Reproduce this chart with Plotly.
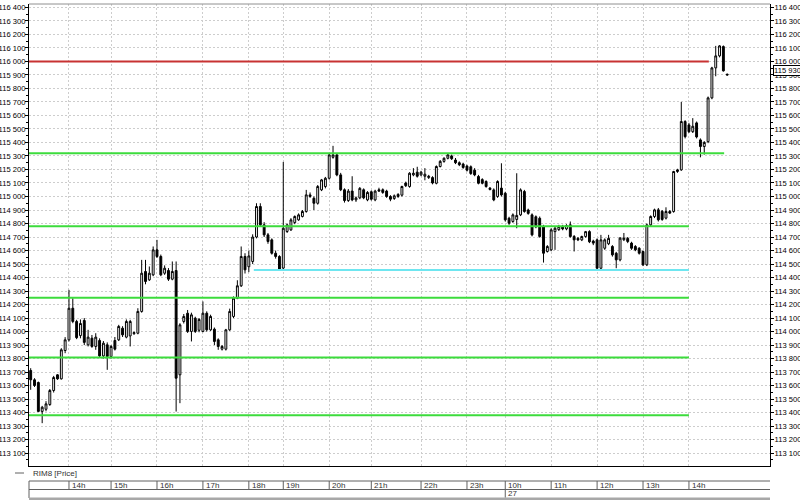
import plotly.graph_objects as go

# ---------------- data ----------------
opens = [113712,113643,113623,113409,113425,113460,113564,113680,113650,113860,
         113939,114173,114075,113970,114082,113902,113951,113890,113934,113820,
         113902,113816,113934,113939,114025,113959,113968,113985,113988,114149,
         114445,114383,114420,114605,114556,114432,114452,114388,114452,113680,
         114075,114136,114001,114099,114010,114001,114136,114013,114018,113939,
         113870,113870,114013,114112,114247,114339,114556,114480,114519,114700,
         114926,114790,114716,114679,114580,114556,114470,114741,114753,114807,
         114827,114852,114889,115000,114987,114950,115049,115074,115135,115290,
         115308,115160,115050,114970,115040,114975,114990,115050,114975,115035,
         114975,115050,115050,115040,115000,114985,115000,115010,115100,115074,
         115160,115180,115160,115150,115140,115140,115098,115222,115260,115283,
         115300,115270,115250,115240,115225,115220,115195,115148,115125,115111,
         115062,115049,115000,115062,115024,114839,114815,114830,114864,115037,
         114900,114864,114850,114839,114778,114593,114605,114740,114755,114778,
         114760,114790,114704,114690,114679,114704,114740,114670,114679,114469,
         114617,114650,114630,114580,114531,114680,114690,114655,114630,114617,
         114593,114494,114790,114852,114901,114890,114840,114889,114889,115185,
         115197,115555,115530,115480,115545,115419,115370,115406,115730,115952,
         116041,116110,115905]
highs = [113729,113655,113630,113450,113485,113575,113672,113685,113877,113959,
         114309,114247,114087,114090,114100,114013,113975,113988,113950,113930,
         113920,113900,113960,114050,114040,114090,114087,114000,114173,114531,
         114531,114482,114630,114679,114570,114490,114470,114519,114519,114062,
         114130,114160,114140,114110,114100,114223,114150,114125,114030,113950,
         113900,114020,114170,114260,114380,114630,114580,114600,114720,114950,
         114950,114810,114730,114690,114600,114565,115256,114800,114840,114860,
         114875,114900,115049,115030,115000,115085,115130,115145,115320,115375,
         115320,115175,115060,115055,115150,115000,115070,115060,115040,115045,
         115050,115065,115060,115050,115010,115015,115025,115080,115110,115180,
         115210,115220,115190,115210,115160,115150,115230,115270,115290,115320,
         115310,115285,115260,115250,115235,115230,115210,115160,115135,115120,
         115070,115060,115120,115246,115035,114850,114875,115172,115060,115049,
         114910,114875,114860,114852,114790,114640,114765,114775,114790,114790,
         114795,114815,114715,114700,114710,114745,114750,114680,114690,114716,
         114690,114716,114640,114590,114700,114730,114700,114665,114640,114625,
         114600,114800,114860,114910,114915,114900,114920,114900,115190,115205,
         115700,115565,115545,115580,115555,115430,115410,115740,115960,116115,
         116120,116118,115910]
lows = [113569,113590,113405,113322,113410,113450,113549,113643,113645,113840,
        113927,114062,113944,113950,113900,113890,113880,113865,113810,113800,
        113717,113800,113860,113930,113960,113950,113890,113975,113980,114140,
        114350,114375,114410,114545,114410,114420,114375,114380,113408,113470,
        114060,113990,113927,113990,113995,113995,114000,114005,113900,113865,
        113860,113860,114005,114100,114240,114330,114430,114440,114500,114690,
        114775,114700,114650,114570,114540,114455,114460,114730,114745,114795,
        114820,114845,114880,114990,114900,114940,115040,115060,115125,115280,
        115150,115040,114955,114960,114965,114960,114980,114980,114965,114970,
        114965,115035,115020,114990,114965,114975,114990,115000,115070,115065,
        115150,115140,115150,115120,115130,115090,115090,115215,115250,115275,
        115270,115240,115225,115205,115185,115160,115150,115090,115090,115065,
        115045,114965,114990,115000,114815,114790,114805,114765,114855,114880,
        114865,114705,114765,114695,114511,114585,114595,114605,114745,114750,
        114750,114695,114593,114670,114670,114695,114655,114640,114460,114460,
        114605,114640,114555,114469,114520,114670,114655,114605,114595,114570,
        114485,114485,114780,114840,114815,114820,114830,114870,114880,115175,
        115190,115430,115470,115470,115430,115290,115310,115395,115720,115890,
        116030,115925,115895]
closes = [113643,113601,113409,113440,113465,113564,113660,113650,113865,113939,
          114173,114075,113955,114060,113920,113959,113890,113959,113820,113914,
          113816,113890,113870,114038,113976,114075,114075,113992,114149,114432,
          114371,114432,114605,114556,114420,114469,114388,114445,113655,114050,
          114112,114001,114124,114001,114090,114136,114013,114112,113927,113890,
          113890,114013,114149,114247,114339,114556,114457,114560,114700,114926,
          114790,114716,114667,114580,114556,114462,114765,114790,114827,114852,
          114864,114889,115012,115012,114950,115074,115123,115135,115308,115308,
          115160,115050,114970,115040,114975,114990,115060,114990,115030,114980,
          115040,115040,115030,115000,114980,115005,115015,115074,115080,115172,
          115172,115150,115180,115165,115150,115100,115222,115260,115283,115308,
          115280,115250,115235,115215,115195,115170,115160,115098,115098,115074,
          115052,114975,115111,115012,114827,114802,114864,114860,115049,114889,
          114875,114716,114775,114704,114580,114630,114753,114765,114778,114760,
          114785,114704,114679,114679,114704,114740,114665,114655,114469,114679,
          114679,114690,114568,114531,114692,114692,114667,114617,114605,114580,
          114494,114790,114852,114901,114827,114830,114889,114877,115185,115197,
          115555,115443,115480,115520,115441,115370,115400,115730,115952,116041,
          116115,115930,115900]

last_price = 115930

hour_labels = ['14h', '15h', '16h', '17h', '18h', '19h', '20h', '21h',
               '22h', '23h', '10h', '11h', '12h', '13h', '14h']
hour_idx = [10, 21, 33, 45, 57, 66, 78, 89, 102, 114, 124, 136, 148, 160, 172]
day_label = '27'
day_idx = 124

# support / resistance levels: value, start bar, end bar, colour
level_values = [116000, 115320, 114780, 114455, 114250, 113808, 113380]
level_start = [None, None, None, 58.3, None, None, None]
level_end = [177.2, 181.2, 172, 172, 172, 172, 172]
level_colors = ['#c83232', '#3cdc3c', '#3cdc3c', '#6ee6f0', '#3cdc3c', '#3cdc3c', '#3cdc3c']

y_ticks = list(range(113100, 116401, 100))
y_range = [113005, 116425]
x_range = [-0.444, 193.18]

series_name = 'RIM8 [Price]'

# ---------------- figure ----------------
FONT = 'Liberation Sans, Arial, sans-serif'
TICKFONT = dict(family=FONT, size=7.6, color='black')
idx = list(range(len(opens)))

fig = go.Figure()
fig.add_trace(go.Candlestick(
    x=idx, open=opens, high=highs, low=lows, close=closes,
    increasing=dict(line=dict(color='black', width=1), fillcolor='white'),
    decreasing=dict(line=dict(color='black', width=1), fillcolor='black'),
    whiskerwidth=0, hoverinfo='skip', name=series_name))

for v, s, e, c in zip(level_values, level_start, level_end, level_colors):
    x0 = x_range[0] if s is None else s
    fig.add_trace(go.Scatter(x=[x0, e], y=[v, v], mode='lines',
                             line=dict(color=c, width=2), hoverinfo='skip'))

# invisible trace to bind the right-hand axis
fig.add_trace(go.Scatter(x=[idx[-1]], y=[last_price], yaxis='y2', mode='markers',
                         marker=dict(opacity=0), hoverinfo='skip'))

grid = dict(gridcolor='#cdcdcd', griddash='2px,2px', gridwidth=1)
minor = dict(tickmode='linear', tick0=113050, dtick=100, ticks='outside',
             ticklen=2, tickcolor='black', showgrid=False)

fig.update_layout(
    width=800, height=500,
    margin=dict(l=29, r=30, t=4, b=34, autoexpand=False),
    paper_bgcolor='white', plot_bgcolor='white',
    showlegend=False, separators='. ', hovermode=False,
    font=dict(family=FONT, size=9, color='black'),
    xaxis=dict(range=x_range, tickmode='array', tickvals=hour_idx, showticklabels=False,
               ticks='', showgrid=True, zeroline=False, showline=True, linecolor='black',
               linewidth=1, automargin=False, rangeslider=dict(visible=False), **grid),
    yaxis=dict(range=y_range, tickmode='array', tickvals=y_ticks, tickformat=',d',
               ticks='outside', ticklen=3, tickcolor='black', showgrid=True, zeroline=False,
               showline=True, linecolor='black', linewidth=1, automargin=False,
               tickfont=TICKFONT, ticklabelstandoff=-2, minor=minor, **grid),
    yaxis2=dict(range=y_range, overlaying='y', side='right', anchor='x', tickmode='array',
                tickvals=y_ticks, tickformat=',d', ticks='outside', ticklen=3,
                tickcolor='black', showgrid=False, zeroline=False, showline=True,
                linecolor='black', linewidth=1, automargin=False,
                tickfont=TICKFONT, ticklabelstandoff=-1, minor=minor),
)

PH = 462.0  # plot height in px


def py(pix):
    """pixel row of the 500px figure -> paper y"""
    return (466 - pix) / PH


shapes = []
# top border
shapes.append(dict(type='line', xref='paper', yref='paper', x0=0, x1=1, y0=1, y1=1,
                   line=dict(color='#909090', width=1)))
# legend dash
shapes.append(dict(type='line', xref='paper', yref='paper', x0=-14 / 741, x1=-5 / 741,
                   y0=py(473), y1=py(473), line=dict(color='#606060', width=1)))
# time axis box
for yy in (481, 489.5):
    shapes.append(dict(type='line', xref='paper', yref='paper', x0=0, x1=1, y0=py(yy), y1=py(yy),
                       line=dict(color='#606060', width=1)))
shapes.append(dict(type='line', xref='paper', yref='paper', x0=0, x1=0, y0=py(481), y1=py(498),
                   line=dict(color='#606060', width=1)))
shapes.append(dict(type='rect', xref='paper', yref='paper', x0=0, x1=1, y0=py(497.5), y1=py(500),
                   fillcolor='#a8a8a8', line=dict(width=0)))
for h in hour_idx:
    shapes.append(dict(type='line', xref='x', yref='paper', x0=h, x1=h, y0=py(481), y1=py(489.5),
                       line=dict(color='#606060', width=1)))
shapes.append(dict(type='line', xref='x', yref='paper', x0=day_idx, x1=day_idx, y0=py(489.5),
                   y1=py(497.5), line=dict(color='#606060', width=1)))
fig.update_layout(shapes=shapes)

ann = []
ann.append(dict(text=series_name, xref='paper', yref='paper', x=2 / 741, y=py(473),
                xanchor='left', yanchor='middle', showarrow=False,
                font=dict(family=FONT, size=8, color='#333333')))
for h, lab in zip(hour_idx, hour_labels):
    ann.append(dict(text=lab, xref='x', yref='paper', x=h, y=py(485.3), xanchor='left',
                    yanchor='middle', xshift=1, showarrow=False,
                    font=dict(family=FONT, size=8, color='#333333')))
ann.append(dict(text=day_label, xref='x', yref='paper', x=day_idx, y=py(493.6), xanchor='left',
                yanchor='middle', xshift=1, showarrow=False,
                font=dict(family=FONT, size=8, color='#333333')))
ann.append(dict(text=f"{last_price:,}".replace(',', ' '), xref='paper', yref='y', x=1,
                y=last_price, xanchor='left', yanchor='middle', xshift=3, showarrow=False,
                bgcolor='white', bordercolor='black', borderwidth=1, borderpad=0,
                font=TICKFONT))
fig.update_layout(annotations=ann)

# remove the browser's default 8px page margin so the figure sits at (0, 0)
fig.write_html('out.html', config={'displayModeBar': False, 'staticPlot': True},
               post_script="document.body.style.margin='0';document.body.style.overflow='hidden';")
